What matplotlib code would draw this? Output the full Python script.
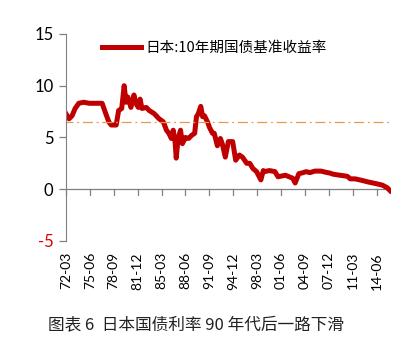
import matplotlib
matplotlib.use("Agg")
import matplotlib.pyplot as plt
import pandas as pd

plt.rcParams['font.family'] = ['Lato', 'Noto Sans CJK SC', 'DejaVu Sans']

# values
dates = ["1972-03", "1972-08", "1973-01", "1973-06", "1973-12", "1974-08", "1975-05",
         "1977-02", "1977-08", "1978-01", "1978-05", "1979-01", "1979-05", "1979-10",
         "1980-02", "1980-05", "1980-08", "1981-01", "1981-06", "1981-09", "1982-01",
         "1982-04", "1982-07", "1983-02", "1983-07", "1984-03", "1984-11", "1985-06",
         "1985-11", "1986-03", "1986-07", "1986-10", "1987-01", "1987-03", "1987-06",
         "1987-10", "1988-01", "1988-06", "1988-11", "1989-04", "1989-09", "1989-12",
         "1990-03", "1990-07", "1990-10", "1991-01", "1991-06", "1991-09", "1992-02",
         "1992-05", "1992-10", "1993-03", "1993-06", "1993-11", "1994-04", "1994-11",
         "1995-04", "1995-10", "1996-03", "1996-10", "1997-03", "1997-08", "1998-02",
         "1998-09", "1999-01", "1999-03", "1999-11", "2000-08", "2001-01", "2002-01",
         "2003-01", "2003-05", "2003-11", "2004-06", "2004-11", "2005-05", "2006-01",
         "2006-11", "2007-06", "2008-02", "2008-07", "2009-06", "2010-06", "2010-11",
         "2011-07", "2012-06", "2013-04", "2014-04", "2015-03", "2015-11", "2016-04"]
yields = [7.3, 6.8, 7.1, 7.8, 8.3, 8.4, 8.3,
          8.3, 7.3, 6.5, 6.2, 6.2, 7.6, 7.8,
          10.0, 8.4, 8.9, 7.9, 9.1, 8.3, 7.9,
          8.7, 7.8, 7.9, 7.6, 7.3, 6.8, 6.5,
          5.7, 5.4, 4.9, 5.7, 4.6, 3.0, 4.9,
          5.7, 4.4, 5.0, 4.9, 5.2, 5.4, 7.0,
          7.3, 8.0, 7.0, 7.1, 6.5, 6.0, 5.4,
          5.4, 4.2, 4.9, 4.4, 3.1, 4.6, 4.6,
          2.8, 3.3, 3.1, 2.5, 2.5, 2.0, 1.7,
          0.9, 1.8, 1.7, 1.8, 1.7, 1.2, 1.35,
          1.06, 0.6, 1.5, 1.6, 1.7, 1.6, 1.75,
          1.75, 1.65, 1.55, 1.45, 1.35, 1.25, 1.0,
          1.0, 0.85, 0.7, 0.55, 0.4, 0.15, -0.15]
avg_level = 6.5
tick_labels = ["72-03", "75-06", "78-09", "81-12", "85-03", "88-06", "91-09",
               "94-12", "98-03", "01-06", "04-09", "07-12", "11-03", "14-06"]
y_ticks = [-5, 0, 5, 10, 15]

x = pd.to_datetime(dates)
tick_pos = pd.to_datetime(["19" + t if int(t[:2]) > 50 else "20" + t for t in tick_labels], format="%Y-%m")

fig = plt.figure(figsize=(4.12, 3.57), dpi=100)
ax = fig.add_axes([0.160, 0.325, 0.790, 0.580])

ax.plot(x, yields, color="#C00000", lw=3.6, solid_joinstyle="round", label="日本:10年期国债基准收益率")
ax.plot([pd.Timestamp("1971-11"), pd.Timestamp("2016-03")], [avg_level, avg_level],
        color="#E59A4C", lw=0.9, ls=(0, (8, 3, 1.5, 3)))

ax.set_xlim(pd.Timestamp("1972-03"), pd.Timestamp("2016-06"))
ax.set_ylim(-5, 15)
ax.set_yticks(y_ticks)
ax.set_yticklabels([str(v) for v in y_ticks], fontsize=12)
ax.get_yticklabels()[0].set_color("#E00000")

# category axis crosses at zero, labels sit at the bottom
ax.spines["top"].set_visible(False)
ax.spines["right"].set_visible(False)
ax.spines["bottom"].set_visible(False)
ax.spines["left"].set_color("#808080")
ax.axhline(0, color="#808080", lw=0.9, zorder=0.5)
for t in tick_pos:
    ax.plot([t, t], [0, -0.55], color="#808080", lw=0.9, zorder=0.5, clip_on=False)
ax.set_xticks(tick_pos)
ax.set_xticklabels(tick_labels, rotation=90, fontsize=10)
ax.tick_params(axis="x", length=0, pad=8)
ax.tick_params(axis="y", color="#808080", length=5, width=0.9, pad=4)

leg = ax.legend(loc="upper left", bbox_to_anchor=(0.07, 1.03), frameon=False,
                handlelength=2.7, handletextpad=0.3, fontsize=10.5)
for txt in leg.get_texts():
    txt.set_family(["Noto Sans CJK SC", "DejaVu Sans"])

fig.text(0.116, 0.078, "图表 6  日本国债利率 90 年代后一路下滑", fontsize=12,
         family=["Noto Sans CJK SC", "DejaVu Sans"], color="#222222")

fig.savefig("out.png", dpi=100)
